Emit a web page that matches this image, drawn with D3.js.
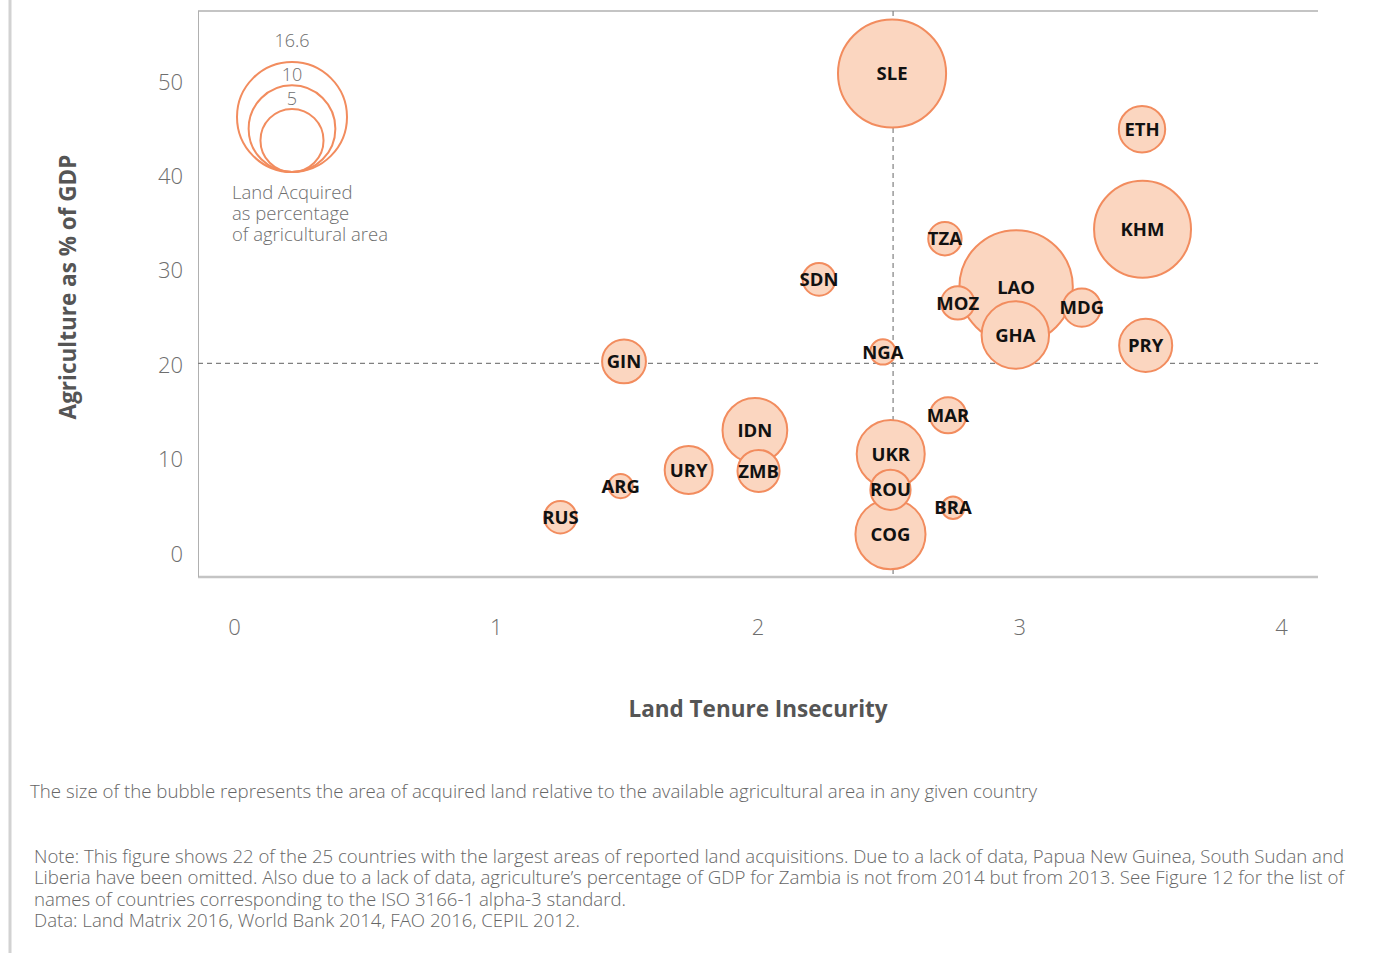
<!DOCTYPE html>
<html>
<head>
<meta charset="utf-8">
<script src="https://cdn.jsdelivr.net/npm/d3@7"></script>
<style>
  html, body { margin: 0; padding: 0; background: #fff; }
  svg { display: block; font-family: "Open Sans", "Noto Sans", sans-serif; }
</style>
</head>
<body>
<svg id="chart" width="1375" height="953"></svg>
<script>
// ---- Data ----
const countries    = ["SLE","ETH","KHM","TZA","SDN","LAO","MOZ","MDG","GHA","PRY","NGA","GIN","MAR","IDN","UKR","URY","ZMB","ARG","ROU","RUS","BRA","COG"];
const tenure       = [2.514,3.469,3.471,2.716,2.235,2.988,2.765,3.239,2.985,3.483,2.479,1.490,2.728,1.990,2.509,1.737,2.004,1.477,2.508,1.247,2.747,2.508];
const agriGDP      = [50.9, 45.0, 34.4, 33.4, 29.1, 28.3, 26.6, 26.1, 23.2, 22.1, 21.4, 20.4, 14.7, 13.1, 10.6, 8.9,  8.8,  7.2,  6.8,  3.9,  4.9,  2.1];
const landAcquired = [16.0, 2.5, 12.7, 1.15, 1.1, 17.7, 1.15, 1.6, 5.8, 3.4, 0.57, 2.2, 1.4, 5.3, 5.9, 2.7, 2.0, 0.51, 1.8, 1.07, 0.42, 6.3];

const xTicks = [0, 1, 2, 3, 4];
const yTicks = [0, 10, 20, 30, 40, 50];
const legendSizes = [16.6, 10, 5];
const meanTenure = 2.518;
const meanAgri = 20.2;

const xTitle = "Land Tenure Insecurity";
const yTitle = "Agriculture as % of GDP";
const legendLines = ["Land Acquired", "as percentage", "of agricultural area"];
const caption = "The size of the bubble represents the area of acquired land relative to the available agricultural area in any given country";
const noteLines = [
  "Note: This figure shows 22 of the 25 countries with the largest areas of reported land acquisitions. Due to a lack of data, Papua New Guinea, South Sudan and",
  "Liberia have been omitted. Also due to a lack of data, agriculture\u2019s percentage of GDP for Zambia is not from 2014 but from 2013. See Figure 12 for the list of",
  "names of countries corresponding to the ISO 3166-1 alpha-3 standard.",
  "Data: Land Matrix 2016, World Bank 2014, FAO 2016, CEPIL 2012."
];

// ---- Layout ----
const svg = d3.select("#chart");
const plot = { left: 198, right: 1318, top: 11, bottom: 577 };

const x = d3.scaleLinear().domain([0, 4]).range([234, 1281]);
const y = d3.scaleLinear().domain([0, 50]).range([554, 82]);
const r = d3.scaleSqrt().domain([0, 16.6]).range([3, 55]);

const fillCol = "#fbd6c0";
const strokeCol = "#f28c5e";
const tickCol = "#6e6e6e";

// decorative left rule
svg.append("line").attr("x1", 10).attr("x2", 10).attr("y1", 0).attr("y2", 953)
  .attr("stroke", "#d2d2d2").attr("stroke-width", 3);

// frame
svg.append("line").attr("x1", plot.left).attr("x2", plot.right).attr("y1", plot.top).attr("y2", plot.top)
  .attr("stroke", "#c4c4c4").attr("stroke-width", 2);
svg.append("line").attr("x1", plot.left).attr("x2", plot.right).attr("y1", plot.bottom).attr("y2", plot.bottom)
  .attr("stroke", "#c4c4c4").attr("stroke-width", 2.5);
svg.append("line").attr("x1", plot.left + 0.5).attr("x2", plot.left + 0.5).attr("y1", plot.top).attr("y2", plot.bottom)
  .attr("stroke", "#b0b0b0").attr("stroke-width", 1);

// mean lines
svg.append("line").attr("x1", plot.left).attr("x2", plot.right).attr("y1", y(meanAgri)).attr("y2", y(meanAgri))
  .attr("stroke", "#808080").attr("stroke-width", 1.2).attr("stroke-dasharray", "5,4");
svg.append("line").attr("x1", x(meanTenure)).attr("x2", x(meanTenure)).attr("y1", plot.top).attr("y2", plot.bottom)
  .attr("stroke", "#808080").attr("stroke-width", 1.2).attr("stroke-dasharray", "5,4");

// axes (labels only)
const xAxis = svg.append("g").attr("transform", "translate(0,619)")
  .call(d3.axisBottom(x).tickValues(xTicks).tickSize(0).tickPadding(0).tickFormat(d3.format("d")));
const yAxis = svg.append("g").attr("transform", "translate(183,0)")
  .call(d3.axisLeft(y).tickValues(yTicks).tickSize(0).tickPadding(0).tickFormat(d3.format("d")));
[xAxis, yAxis].forEach(g => {
  g.select(".domain").remove();
  g.attr("font-family", null).attr("font-size", null);
  g.selectAll("text").attr("fill", tickCol).style("font-size", "22px").style("font-weight", 300)
    .style("font-family", "'Open Sans', sans-serif");
});

// axis titles
svg.append("text").attr("x", 758).attr("y", 717).attr("text-anchor", "middle")
  .style("font-size", "22.5px").style("font-weight", 700).attr("fill", "#555").text(xTitle);
svg.append("text").attr("transform", "translate(76,287) rotate(-90)").attr("text-anchor", "middle")
  .style("font-size", "22.5px").style("font-weight", 700).attr("fill", "#555").text(yTitle);

// bubbles
const data = countries.map((c, i) => ({ c, x: tenure[i], y: agriGDP[i], s: landAcquired[i] }))
  .sort((a, b) => b.s - a.s);

const bubbles = svg.append("g");
bubbles.selectAll("circle").data(data).join("circle")
  .attr("cx", d => x(d.x)).attr("cy", d => y(d.y)).attr("r", d => r(d.s))
  .attr("fill", fillCol).attr("stroke", strokeCol).attr("stroke-width", 2);

svg.append("g").selectAll("text").data(data).join("text")
  .attr("x", d => x(d.x)).attr("y", d => y(d.y)).attr("dy", "0.36em")
  .attr("text-anchor", "middle").style("font-size", "18.5px").style("font-weight", 700)
  .attr("fill", "#111").text(d => d.c);

// size legend
const legX = 292, legBottom = 172;
const leg = svg.append("g");
leg.selectAll("circle").data(legendSizes).join("circle")
  .attr("cx", legX).attr("cy", d => legBottom - r(d)).attr("r", d => r(d))
  .attr("fill", "none").attr("stroke", strokeCol).attr("stroke-width", 2);
leg.selectAll("text").data(legendSizes).join("text")
  .attr("x", legX).attr("y", d => legBottom - 2 * r(d) - (d === d3.max(legendSizes) ? 15 : 4))
  .attr("text-anchor", "middle").style("font-size", "18px").style("font-weight", 300)
  .attr("fill", tickCol).text(d => d);
svg.append("g").selectAll("text").data(legendLines).join("text")
  .attr("x", 232).attr("y", (d, i) => 199 + i * 21)
  .style("font-size", "18.5px").style("font-weight", 300).attr("fill", tickCol).text(d => d);

// caption and notes
svg.append("text").attr("x", 30).attr("y", 798)
  .attr("textLength", 1007).attr("lengthAdjust", "spacingAndGlyphs")
  .style("font-size", "18px").style("font-weight", 300).attr("fill", "#666").text(caption);
const noteWidths = [1310, 1310, 592, 546];
svg.append("g").selectAll("text").data(noteLines).join("text")
  .attr("x", 34).attr("y", (d, i) => 863 + i * 21.3)
  .attr("textLength", (d, i) => noteWidths[i]).attr("lengthAdjust", "spacingAndGlyphs")
  .style("font-size", "18px").style("font-weight", 300).attr("fill", "#666").text(d => d);
</script>
</body>
</html>
